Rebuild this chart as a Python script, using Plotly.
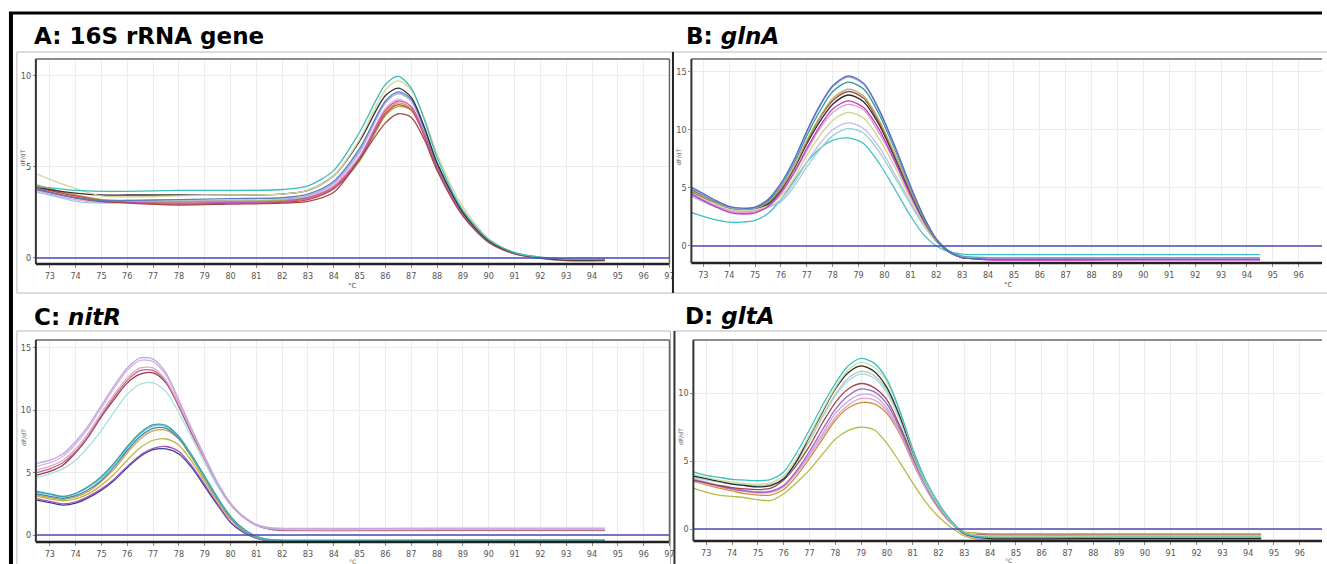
import plotly.graph_objects as go

W, H = 1327, 564

# ---------------- Panel A: 16S rRNA gene ----------------
T_A = [72.5, 73, 74, 75, 76, 78, 80, 82, 83, 84, 85, 86, 86.5, 87, 87.5, 88, 89, 90, 91, 92, 93, 94.5]
a_cyan = [3.9, 3.85, 3.7, 3.65, 3.65, 3.7, 3.7, 3.75, 3.95, 4.8, 6.9, 9.5, 9.95, 9.3, 7.6, 5.5, 2.6, 1.0, 0.3, 0.05, -0.05, -0.05]
a_paleyellow = [4.6, 4.3, 3.8, 3.4, 3.35, 3.4, 3.45, 3.5, 3.7, 4.5, 6.5, 9.2, 9.7, 9.2, 7.7, 5.7, 2.8, 1.05, 0.3, 0.05, -0.05, -0.05]
a_black = [3.9, 3.75, 3.55, 3.45, 3.45, 3.45, 3.45, 3.5, 3.7, 4.5, 6.4, 8.9, 9.3, 8.8, 7.2, 5.2, 2.5, 0.95, 0.28, 0.02, -0.1, -0.1]
a_steelblue = [3.8, 3.6, 3.3, 3.15, 3.15, 3.2, 3.25, 3.3, 3.5, 4.2, 6.0, 8.6, 9.1, 8.7, 7.1, 5.2, 2.5, 0.95, 0.28, 0.02, -0.05, -0.05]
a_lavender = [3.7, 3.5, 3.2, 3.05, 3.05, 3.1, 3.15, 3.2, 3.4, 4.1, 5.8, 8.5, 9.0, 8.6, 7.0, 5.1, 2.5, 0.95, 0.28, 0.02, -0.05, -0.05]
a_lightpink = [3.7, 3.55, 3.2, 3.1, 3.1, 3.05, 3.1, 3.15, 3.35, 4.0, 5.6, 8.2, 8.7, 8.3, 6.8, 5.0, 2.4, 0.9, 0.25, 0.0, -0.1, -0.1]
a_magenta = [3.85, 3.6, 3.3, 3.1, 3.05, 3.0, 3.05, 3.1, 3.3, 3.9, 5.5, 8.1, 8.6, 8.3, 6.8, 5.0, 2.4, 0.9, 0.25, 0.0, -0.1, -0.1]
a_orange = [4.0, 3.8, 3.45, 3.2, 3.1, 3.0, 3.05, 3.1, 3.25, 3.9, 5.5, 8.0, 8.5, 8.2, 6.8, 5.0, 2.4, 0.9, 0.25, 0.0, -0.1, -0.1]
a_olive = [3.9, 3.7, 3.4, 3.2, 3.15, 3.1, 3.1, 3.15, 3.3, 3.8, 5.3, 7.8, 8.3, 8.1, 6.8, 5.1, 2.6, 1.0, 0.3, 0.02, -0.05, -0.05]
a_brown = [3.75, 3.6, 3.3, 3.1, 3.0, 2.9, 2.95, 3.0, 3.1, 3.6, 5.4, 7.4, 7.9, 7.7, 6.5, 4.8, 2.3, 0.85, 0.22, -0.02, -0.15, -0.15]
a_red = [3.9, 3.7, 3.4, 3.15, 3.05, 2.95, 3.0, 3.05, 3.2, 3.8, 5.4, 7.9, 8.4, 8.1, 6.7, 4.9, 2.4, 0.9, 0.25, 0.0, -0.12, -0.12]
a_lightblue = [3.6, 3.45, 3.1, 3.0, 3.05, 3.1, 3.15, 3.2, 3.4, 4.1, 5.9, 8.5, 9.0, 8.6, 7.0, 5.1, 2.5, 0.95, 0.28, 0.02, -0.05, -0.05]

# ---------------- Panel B: glnA ----------------
T_B = [72.5, 73, 73.5, 74, 74.5, 75, 75.5, 76, 76.5, 77, 77.5, 78, 78.6, 79.2, 79.8, 80.4, 81, 81.5, 82, 82.5, 83, 83.5, 84, 89, 94.5]
b_blue = [5.1, 4.5, 3.9, 3.4, 3.25, 3.35, 4.0, 5.4, 7.4, 9.9, 12.1, 13.8, 14.65, 14.0, 11.7, 8.6, 5.2, 2.6, 0.6, -0.5, -1.0, -1.1, -1.15, -1.15, -1.15]
b_lavender = [5.0, 4.4, 3.85, 3.35, 3.2, 3.3, 4.0, 5.3, 7.3, 9.8, 12.0, 13.7, 14.55, 13.9, 11.6, 8.5, 5.1, 2.6, 0.6, -0.5, -0.95, -1.05, -1.1, -1.1, -1.1]
b_teal = [4.9, 4.35, 3.8, 3.35, 3.2, 3.3, 3.9, 5.2, 7.1, 9.5, 11.6, 13.3, 14.1, 13.5, 11.3, 8.3, 5.0, 2.5, 0.6, -0.45, -0.9, -1.0, -1.05, -1.05, -1.05]
b_khaki = [4.8, 4.25, 3.7, 3.3, 3.15, 3.25, 3.8, 5.0, 6.8, 9.1, 11.1, 12.7, 13.5, 12.9, 10.8, 7.9, 4.8, 2.4, 0.5, -0.5, -0.95, -1.05, -1.1, -1.1, -1.1]
b_brown = [4.7, 4.2, 3.7, 3.3, 3.15, 3.25, 3.7, 4.9, 6.7, 9.0, 11.0, 12.5, 13.3, 12.7, 10.6, 7.8, 4.7, 2.4, 0.5, -0.5, -1.0, -1.1, -1.15, -1.15, -1.15]
b_black = [4.9, 4.3, 3.75, 3.3, 3.15, 3.25, 3.6, 4.8, 6.6, 8.8, 10.7, 12.2, 13.0, 12.4, 10.4, 7.6, 4.6, 2.3, 0.5, -0.55, -1.0, -1.1, -1.15, -1.15, -1.15]
b_magenta = [4.5, 3.9, 3.35, 2.9, 2.75, 2.85, 3.4, 4.6, 6.3, 8.4, 10.3, 11.8, 12.5, 11.9, 10.0, 7.3, 4.4, 2.2, 0.5, -0.5, -1.0, -1.1, -1.2, -1.2, -1.2]
b_pink = [4.6, 4.0, 3.45, 3.0, 2.85, 2.95, 3.4, 4.5, 6.2, 8.2, 10.1, 11.5, 12.2, 11.7, 9.7, 7.2, 4.3, 2.2, 0.5, -0.5, -1.0, -1.1, -1.2, -1.2, -1.2]
b_yellowgreen = [4.6, 4.1, 3.6, 3.2, 3.05, 3.15, 3.5, 4.3, 5.8, 7.8, 9.5, 10.8, 11.5, 11.0, 9.2, 6.8, 4.1, 2.0, 0.4, -0.5, -0.9, -1.0, -1.05, -1.05, -1.05]
b_lightlavender = [4.4, 3.9, 3.45, 3.1, 2.95, 3.05, 3.35, 4.0, 5.4, 7.2, 8.8, 10.0, 10.6, 10.1, 8.5, 6.2, 3.8, 1.9, 0.4, -0.5, -0.9, -1.0, -1.05, -1.05, -1.05]
b_lightteal = [4.3, 3.8, 3.35, 3.0, 2.9, 3.0, 3.3, 3.8, 5.1, 6.8, 8.3, 9.5, 10.1, 9.7, 8.1, 5.9, 3.6, 1.8, 0.4, -0.45, -0.85, -0.95, -1.0, -1.0, -1.0]
b_cyan = [2.9, 2.55, 2.25, 2.05, 2.05, 2.2, 2.8, 4.0, 5.6, 7.2, 8.4, 9.1, 9.3, 8.8, 7.1, 4.9, 2.6, 1.0, 0.0, -0.5, -0.7, -0.75, -0.75, -0.75, -0.75]

# ---------------- Panel C: nitR ----------------
T_C = [72.5, 73, 73.5, 74, 74.5, 75, 75.5, 76, 76.5, 77, 77.5, 78, 78.5, 79, 79.5, 80, 80.5, 81, 81.5, 82, 88, 94.5]
c_lavender = [5.75, 6.0, 6.5, 7.5, 8.8, 10.4, 12.0, 13.4, 14.2, 14.1, 13.0, 10.8, 8.5, 6.3, 4.2, 2.55, 1.5, 0.85, 0.6, 0.55, 0.55, 0.55]
c_lightpurple = [5.5, 5.8, 6.3, 7.3, 8.6, 10.2, 11.8, 13.2, 14.0, 13.9, 12.8, 10.7, 8.4, 6.2, 4.1, 2.5, 1.45, 0.8, 0.55, 0.5, 0.5, 0.5]
c_pink = [5.2, 5.5, 6.0, 6.9, 8.2, 9.8, 11.3, 12.6, 13.4, 13.4, 12.4, 10.5, 8.3, 6.2, 4.1, 2.5, 1.45, 0.8, 0.55, 0.45, 0.45, 0.45]
c_mauve = [5.0, 5.3, 5.8, 6.7, 8.0, 9.6, 11.1, 12.4, 13.2, 13.2, 12.3, 10.4, 8.2, 6.1, 4.1, 2.5, 1.45, 0.8, 0.5, 0.4, 0.4, 0.4]
c_red = [4.8, 5.1, 5.6, 6.6, 7.9, 9.5, 10.9, 12.2, 12.9, 13.0, 12.2, 10.3, 8.1, 6.1, 4.1, 2.5, 1.45, 0.8, 0.5, 0.4, 0.4, 0.4]
c_lightcyan = [4.6, 4.9, 5.3, 6.0, 7.1, 8.4, 9.9, 11.3, 12.1, 12.2, 11.5, 9.8, 7.8, 5.8, 3.9, 2.4, 1.4, 0.75, 0.45, 0.35, 0.35, 0.35]
c_teal = [3.5, 3.3, 3.1, 3.35, 3.9, 4.7, 5.8, 7.1, 8.2, 8.85, 8.8, 7.9, 6.4, 4.7, 3.0, 1.5, 0.5, -0.1, -0.35, -0.4, -0.4, -0.4]
c_cyan = [3.45, 3.25, 3.05, 3.3, 3.85, 4.6, 5.7, 7.0, 8.1, 8.75, 8.7, 7.85, 6.35, 4.65, 2.95, 1.45, 0.45, -0.15, -0.4, -0.45, -0.45, -0.45]
c_blue = [3.3, 3.1, 2.95, 3.15, 3.65, 4.4, 5.5, 6.8, 7.9, 8.55, 8.55, 7.75, 6.3, 4.6, 2.9, 1.4, 0.4, -0.2, -0.45, -0.5, -0.5, -0.5]
c_orange = [3.2, 3.0, 2.85, 3.05, 3.5, 4.3, 5.3, 6.6, 7.7, 8.35, 8.4, 7.7, 6.2, 4.5, 2.85, 1.35, 0.4, -0.2, -0.45, -0.5, -0.5, -0.5]
c_olive = [3.1, 2.9, 2.75, 2.9, 3.3, 4.0, 4.9, 6.0, 7.0, 7.6, 7.7, 7.2, 5.9, 4.3, 2.7, 1.25, 0.35, -0.2, -0.4, -0.45, -0.45, -0.45]
c_purple = [2.9, 2.7, 2.5, 2.65, 3.1, 3.7, 4.5, 5.5, 6.4, 6.95, 7.1, 6.7, 5.55, 4.05, 2.5, 1.05, 0.25, -0.25, -0.45, -0.5, -0.5, -0.5]
c_darkblue = [2.8, 2.6, 2.4, 2.55, 3.0, 3.6, 4.4, 5.4, 6.3, 6.85, 6.9, 6.5, 5.4, 3.9, 2.4, 1.0, 0.2, -0.25, -0.45, -0.5, -0.55, -0.55]

# ---------------- Panel D: gltA ----------------
T_D = [72.5, 73, 73.5, 74, 74.5, 75, 75.5, 76, 76.5, 77, 77.5, 78, 78.5, 79, 79.5, 80, 80.5, 81, 81.5, 82, 82.5, 83, 83.5, 84, 89, 94.5]
d_cyan = [4.2, 3.95, 3.8, 3.65, 3.6, 3.55, 3.65, 4.2, 5.6, 7.3, 9.1, 10.7, 12.0, 12.55, 12.2, 11.0, 8.7, 5.9, 3.6, 1.9, 0.6, -0.3, -0.55, -0.6, -0.6, -0.6]
d_palegreen = [4.0, 3.8, 3.6, 3.45, 3.35, 3.3, 3.4, 3.9, 5.2, 6.9, 8.7, 10.4, 11.7, 12.25, 11.9, 10.8, 8.6, 5.8, 3.5, 1.8, 0.5, -0.3, -0.5, -0.55, -0.55, -0.55]
d_black = [3.9, 3.7, 3.5, 3.3, 3.2, 3.1, 3.2, 3.7, 5.0, 6.8, 8.6, 10.3, 11.5, 12.0, 11.6, 10.4, 8.3, 5.7, 3.5, 1.8, 0.5, -0.35, -0.6, -0.7, -0.7, -0.7]
d_graygreen = [3.9, 3.7, 3.5, 3.35, 3.25, 3.2, 3.3, 3.7, 4.9, 6.5, 8.3, 9.9, 11.1, 11.6, 11.3, 10.2, 8.2, 5.6, 3.4, 1.8, 0.5, -0.3, -0.45, -0.5, -0.5, -0.5]
d_lightcyan = [3.8, 3.6, 3.45, 3.3, 3.2, 3.15, 3.25, 3.7, 4.9, 6.5, 8.2, 9.8, 10.9, 11.4, 11.1, 10.0, 8.0, 5.5, 3.3, 1.7, 0.5, -0.3, -0.6, -0.65, -0.65, -0.65]
d_brown = [3.6, 3.4, 3.2, 3.05, 2.95, 2.9, 3.0, 3.6, 4.7, 6.1, 7.8, 9.3, 10.3, 10.7, 10.4, 9.5, 7.6, 5.4, 3.3, 1.7, 0.5, -0.3, -0.42, -0.45, -0.45, -0.45]
d_violet = [3.6, 3.4, 3.15, 2.95, 2.8, 2.7, 2.75, 3.2, 4.3, 5.7, 7.3, 8.8, 9.8, 10.3, 10.1, 9.2, 7.4, 5.2, 3.2, 1.6, 0.45, -0.3, -0.55, -0.6, -0.6, -0.6]
d_lavender = [3.7, 3.45, 3.2, 3.0, 2.85, 2.75, 2.8, 3.2, 4.2, 5.5, 7.0, 8.5, 9.4, 9.9, 9.8, 8.9, 7.2, 5.1, 3.1, 1.6, 0.45, -0.35, -0.65, -0.7, -0.7, -0.7]
d_pink = [3.5, 3.3, 3.1, 2.9, 2.75, 2.65, 2.7, 3.1, 4.1, 5.4, 6.8, 8.2, 9.1, 9.6, 9.5, 8.7, 7.1, 5.0, 3.0, 1.5, 0.4, -0.4, -0.7, -0.75, -0.75, -0.75]
d_orange = [3.5, 3.25, 3.0, 2.8, 2.6, 2.5, 2.5, 2.9, 3.9, 5.2, 6.6, 8.0, 8.9, 9.3, 9.2, 8.5, 7.0, 4.9, 3.0, 1.5, 0.4, -0.2, -0.3, -0.35, -0.35, -0.35]
d_olive = [3.0, 2.7, 2.5, 2.4, 2.3, 2.15, 2.1, 2.6, 3.4, 4.35, 5.5, 6.6, 7.25, 7.5, 7.3, 6.3, 4.9, 3.4, 2.0, 0.9, 0.1, -0.5, -0.75, -0.8, -0.8, -0.8]

# tick values
X_TICKS = list(range(73, 98))
YTICKS_A = [0, 5, 10]
YTICKS_B = [0, 5, 10, 15]
YTICKS_C = [0, 5, 10, 15]
YTICKS_D = [0, 5, 10]

TITLES = ["A: 16S rRNA gene", "B: <i>glnA</i>", "C: <i>nitR</i>", "D: <i>gltA</i>"]

# ---------------- styles (kept apart from data) ----------------
A_SERIES = [a_lightblue, a_lavender, a_lightpink, a_orange, a_olive, a_red, a_magenta, a_brown,
            a_steelblue, a_black, a_paleyellow, a_cyan]
A_COLORS = ["#9ec8e8", "#b9abe2", "#e8b2d8", "#e0913e", "#9cb43e", "#d04452", "#c05cc0", "#a04a48",
            "#5a7fc0", "#333333", "#d6d29a", "#3cbcbc"]
B_SERIES = [b_cyan, b_lightteal, b_lightlavender, b_yellowgreen, b_pink, b_magenta, b_black, b_brown,
            b_khaki, b_teal, b_lavender, b_blue]
B_COLORS = ["#3fc0c8", "#8fd3d6", "#c3bde3", "#c6d88e", "#e29acb", "#c23cc2", "#2a2a2a", "#9a5040",
            "#b8ae62", "#2e9c8c", "#b79ae0", "#4f6fc4"]
C_SERIES = [c_lightcyan, c_red, c_mauve, c_pink, c_lightpurple, c_lavender,
            c_darkblue, c_purple, c_olive, c_orange, c_blue, c_cyan, c_teal]
C_COLORS = ["#a8e0e0", "#a83048", "#b07090", "#e2a8c8", "#d2b4e8", "#c4a4de",
            "#3a3aa0", "#a554b4", "#b9b842", "#d6a040", "#4a7cc0", "#5cc8d4", "#3aa6a6"]
D_SERIES = [d_olive, d_orange, d_pink, d_lavender, d_violet, d_brown, d_lightcyan, d_graygreen,
            d_black, d_palegreen, d_cyan]
D_COLORS = ["#b4bc44", "#d48e36", "#e2a2d2", "#c4a6e4", "#9a66c8", "#a04848", "#a6dce2", "#b8ccb8",
            "#2c2c2c", "#c9dca2", "#3cc0c0"]

for T, ser in [(T_A, A_SERIES), (T_B, B_SERIES), (T_C, C_SERIES), (T_D, D_SERIES)]:
    for s in ser:
        assert len(s) == len(T), (len(s), len(T))


def px(x):
    return x / W


def py(y):
    return 1 - y / H


# panel geometry in pixels: (left, right, top, bottom), x-range, y-range
PANELS = [
    dict(box=(36, 672, 59, 264), xr=[72.46, 97.0], yr=[-0.33, 10.9], yt=YTICKS_A, T=T_A, S=A_SERIES, C=A_COLORS, right=True, xt=354),
    dict(box=(694, 1327, 59, 263), xr=[72.54, 96.9], yr=[-1.47, 16.1], yt=YTICKS_B, T=T_B, S=B_SERIES, C=B_COLORS, right=False, xt=1012),
    dict(box=(36, 672, 340, 542), xr=[72.46, 97.0], yr=[-0.56, 15.64], yt=YTICKS_C, T=T_C, S=C_SERIES, C=C_COLORS, right=True, xt=354),
    dict(box=(696, 1327, 340, 541), xr=[72.5, 96.86], yr=[-0.88, 13.9], yt=YTICKS_D, T=T_D, S=D_SERIES, C=D_COLORS, right=False, xt=1012),
]

fig = go.Figure()
layout = dict(
    width=W, height=H, margin=dict(l=0, r=0, t=0, b=0),
    paper_bgcolor="white", plot_bgcolor="white", showlegend=False,
)
shapes = []
annotations = []
TICKFONT = dict(family="Liberation Sans Narrow, DejaVu Sans Condensed, Arial", size=9, color="#555555")

for i, p in enumerate(PANELS, start=1):
    l, r, t, b = p["box"]
    xa = "xaxis" if i == 1 else f"xaxis{i}"
    ya = "yaxis" if i == 1 else f"yaxis{i}"
    xr_ = "x" if i == 1 else f"x{i}"
    yr_ = "y" if i == 1 else f"y{i}"
    layout[xa] = dict(domain=[px(l), px(r)], anchor=yr_, range=p["xr"], tickvals=X_TICKS,
                      ticks="outside", ticklen=3, tickcolor="#888", tickfont=TICKFONT,
                      showgrid=True, gridcolor="#ececec", gridwidth=1, zeroline=False,
                      showline=False, fixedrange=True)
    layout[ya] = dict(domain=[py(b), py(t)], anchor=xr_, range=p["yr"], tickvals=p["yt"],
                      ticks="outside", ticklen=2, tickcolor="#888", tickfont=TICKFONT,
                      showgrid=True, gridcolor="#ececec", gridwidth=1, zeroline=False,
                      showline=False, fixedrange=True)
    for s, c in zip(p["S"], p["C"]):
        fig.add_trace(go.Scatter(x=p["T"], y=s, mode="lines", xaxis=xr_, yaxis=yr_,
                                 line=dict(color=c, width=1.3, shape="spline", smoothing=0.8),
                                 hoverinfo="skip"))
    xd, yd = f"{xr_} domain", f"{yr_} domain"
    # zero (threshold) line
    shapes.append(dict(type="line", xref=xd, x0=0, x1=1, yref=yr_, y0=0, y1=0,
                       line=dict(color="#4b4bb8", width=1.5)))
    # plot frame
    shapes.append(dict(type="line", xref=xd, yref=yd, x0=0, x1=1, y0=1, y1=1, line=dict(color="#666", width=1.5)))
    shapes.append(dict(type="line", xref=xd, yref=yd, x0=0, x1=1, y0=0, y1=0, line=dict(color="#222", width=2.5)))
    shapes.append(dict(type="line", xref=xd, yref=yd, x0=0, x1=0, y0=0, y1=1, line=dict(color="#333", width=2)))
    if p["right"]:
        shapes.append(dict(type="line", xref=xd, yref=yd, x0=1, x1=1, y0=0, y1=1, line=dict(color="#666", width=1.5)))
    # axis titles
    annotations.append(dict(text="dF/dT", x=px(l - 13), y=py((t + b) / 2 - 4), xref="paper", yref="paper",
                            textangle=-90, showarrow=False, font=dict(family="DejaVu Sans", size=6, color="#555"),
                            xanchor="center", yanchor="middle"))
    bottom_row = b > 300
    annotations.append(dict(text="°C", x=px(p["xt"]), y=py(b + 19.5 if bottom_row else b + 22),
                            xref="paper", yref="paper", showarrow=False,
                            font=dict(family="DejaVu Sans", size=6 if bottom_row else 7, color="#555"),
                            xanchor="center", yanchor="middle"))

# panel titles
TITLE_POS = [(32, 36), (687, 36), (32, 317), (686, 316)]
for txt, (tx, ty) in zip(TITLES, TITLE_POS):
    annotations.append(dict(text=f"<b>{txt}</b>", x=px(tx), y=py(ty), xref="paper", yref="paper",
                            showarrow=False, xanchor="left", yanchor="middle",
                            font=dict(family="DejaVu Sans", size=23, color="black")))

# outer frames and gray panel boxes
GRAY = "#b8b8b8"
shapes += [
    dict(type="rect", xref="paper", yref="paper", x0=px(17), x1=px(675.5), y0=py(293), y1=py(52),
         line=dict(color=GRAY, width=1), layer="below"),
    dict(type="rect", xref="paper", yref="paper", x0=px(675.5), x1=px(1335), y0=py(293), y1=py(52),
         line=dict(color=GRAY, width=1), layer="below"),
    dict(type="rect", xref="paper", yref="paper", x0=px(17), x1=px(673), y0=py(575), y1=py(331),
         line=dict(color=GRAY, width=1), layer="below"),
    dict(type="rect", xref="paper", yref="paper", x0=px(677), x1=px(1335), y0=py(575), y1=py(331),
         line=dict(color=GRAY, width=1), layer="below"),
    dict(type="line", xref="paper", yref="paper", x0=px(675.5), x1=px(675.5), y0=py(293), y1=py(52),
         line=dict(color="#222", width=2)),
    dict(type="line", xref="paper", yref="paper", x0=px(677), x1=px(677), y0=py(564), y1=py(331),
         line=dict(color="#333", width=2)),
    dict(type="line", xref="paper", yref="paper", x0=px(9), x1=px(1327), y0=py(13), y1=py(13),
         line=dict(color="black", width=3)),
    dict(type="line", xref="paper", yref="paper", x0=px(11), x1=px(11), y0=py(12), y1=py(564),
         line=dict(color="black", width=4)),
]

layout["shapes"] = shapes
layout["annotations"] = annotations
fig.update_layout(**layout)
fig.write_html(
    "out.html",
    config={"displayModeBar": False},
    post_script="document.body.style.margin='0';document.body.style.overflow='hidden';",
)
